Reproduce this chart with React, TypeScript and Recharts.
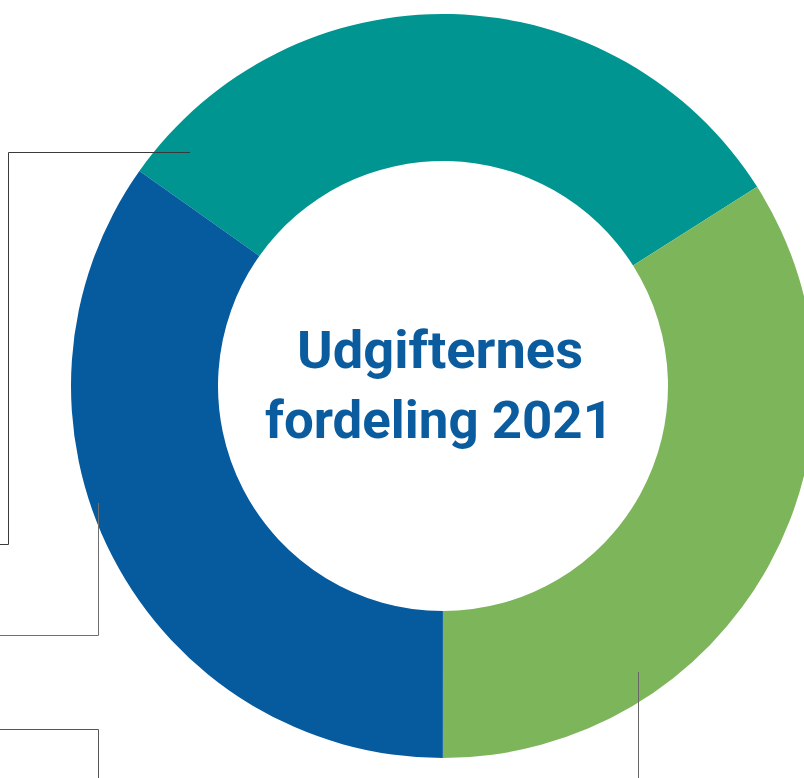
import React from "react";
import { PieChart, Pie, Cell } from "recharts";

const categories = ["Segment 1", "Segment 2", "Segment 3"];
const values = [31.2, 34.0, 34.8];
const colors = ["#009591", "#7db55b", "#065a9e"];
const titleLines = ["Udgifternes", "fordeling 2021"];

const data = categories.map((name, i) => ({ name, value: values[i] }));

// decorative leader lines (labels lie outside the visible frame)
const leaderPaths = [
  { d: "M190,152.5 L8.5,152.5 L8.5,544.5 L0,544.5", stroke: "#3a3a3a" },
  { d: "M98.5,503 L98.5,635.5 L0,635.5", stroke: "#6e6e6e" },
  { d: "M0,729.5 L98.5,729.5 L98.5,778", stroke: "#555" },
  { d: "M638.5,672 L638.5,778", stroke: "#666" },
];

const Overlay = () => (
  <svg
    width={804}
    height={778}
    style={{ position: "absolute", left: 0, top: 0, pointerEvents: "none" }}
  >
    {leaderPaths.map((p, i) => (
      <path key={i} d={p.d} fill="none" stroke={p.stroke} strokeWidth={1} />
    ))}
    <text
      x={440}
      y={368}
      textAnchor="middle"
      fontFamily="Roboto, sans-serif"
      fontWeight={700}
      fontSize={51}
      fill="#0b5c9e"
      textLength={286}
      lengthAdjust="spacingAndGlyphs"
    >
      {titleLines[0]}
    </text>
    <text
      x={439}
      y={438}
      textAnchor="middle"
      fontFamily="Roboto, sans-serif"
      fontWeight={700}
      fontSize={51}
      fill="#0b5c9e"
      textLength={348}
      lengthAdjust="spacingAndGlyphs"
    >
      {titleLines[1]}
    </text>
  </svg>
);

export default function App() {
  return (
    <div style={{ position: "absolute", left: 0, top: 0, width: 804, height: 778, background: "#fff" }}>
      <PieChart width={804} height={778} margin={{ top: 0, right: 0, bottom: 0, left: 0 }}>
        <Pie
          data={data}
          dataKey="value"
          nameKey="name"
          cx={443}
          cy={386}
          innerRadius={225}
          outerRadius={372}
          startAngle={144.7}
          endAngle={144.7 - 360}
          stroke="none"
          isAnimationActive={false}
        >
          {data.map((d, i) => (
            <Cell key={d.name} fill={colors[i]} />
          ))}
        </Pie>
      </PieChart>
      <Overlay />
    </div>
  );
}
